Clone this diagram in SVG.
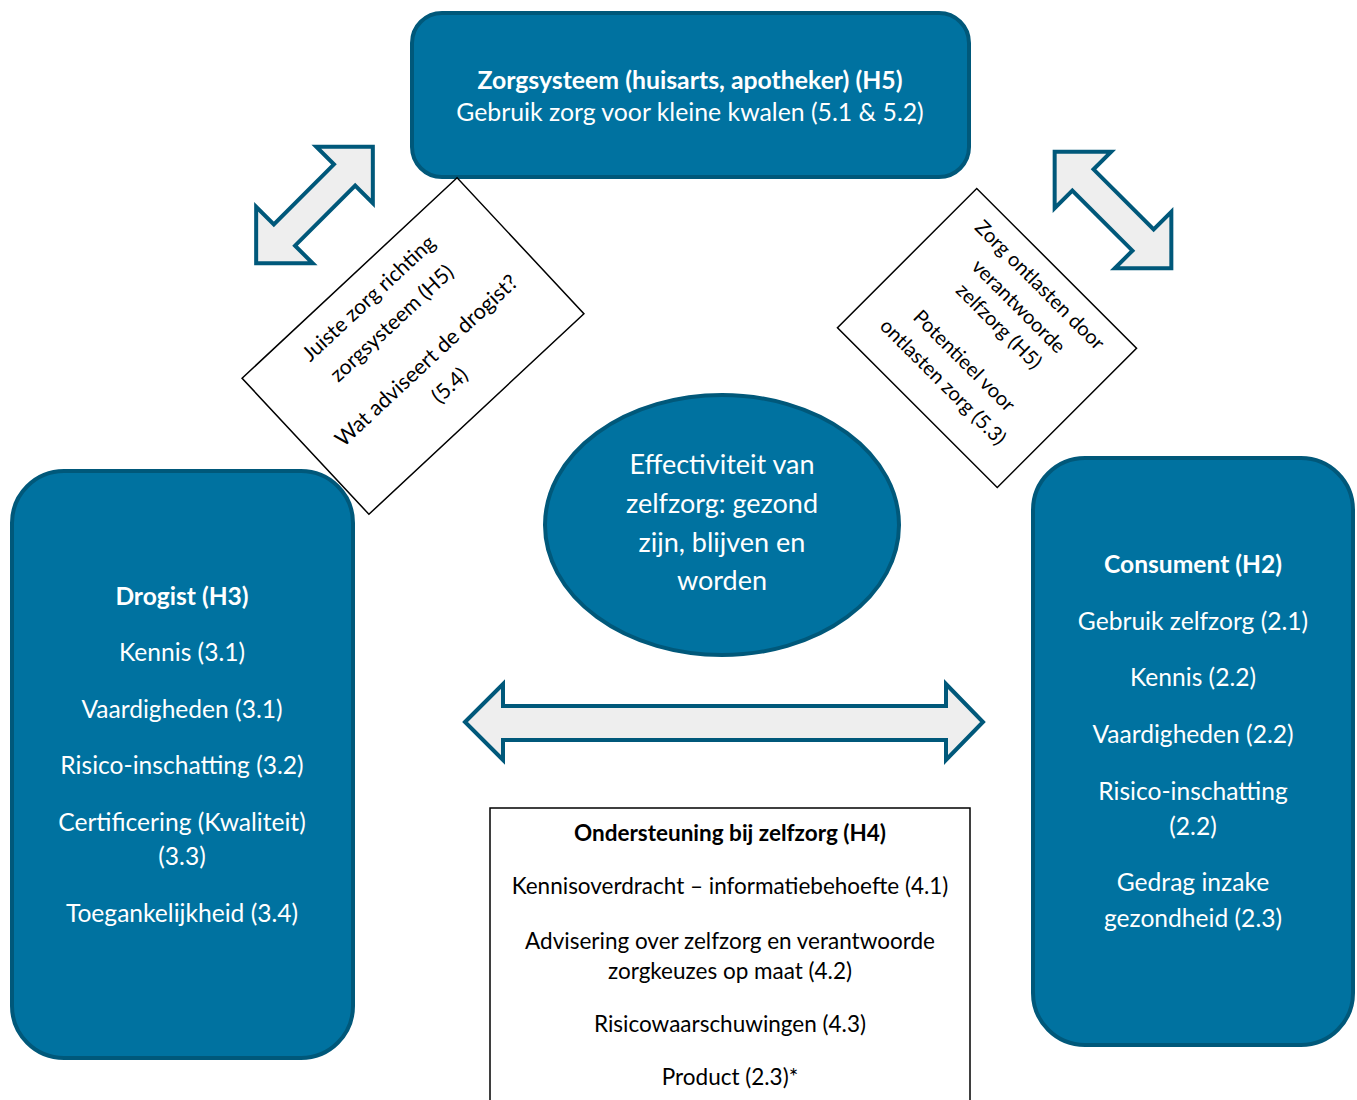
<svg xmlns="http://www.w3.org/2000/svg" width="1357" height="1100" viewBox="0 0 1357 1100">
<style>
.node{fill:#0072A0;stroke:#00587A;stroke-width:4}
.arr{fill:#EEEEEE;stroke:#00587A;stroke-width:4;stroke-linejoin:miter}
.wt{fill:#FFFFFF;font-family:Lato,"Open Sans",sans-serif;text-anchor:middle}
.bt{fill:#000000;font-family:Lato,"Open Sans",sans-serif;text-anchor:middle}
.b{font-weight:bold}
.box{fill:#FFFFFF;stroke:#000000;stroke-width:1.5}
.side{font-size:24.6px}
.low{font-size:22.5px}
</style>
<defs>
<polygon id="dbl" points="-82.5,0 -42.5,-40 -42.5,-15 42.5,-15 42.5,-40 82.5,0 42.5,40 42.5,15 -42.5,15 -42.5,40"/>
</defs>
<rect width="1357" height="1100" fill="#FFFFFF"/>

<g id="connectors">
<use href="#dbl" class="arr" transform="translate(314.5,205) rotate(-45)"/>
<use href="#dbl" class="arr" transform="translate(1113,210) rotate(45)"/>
<polygon class="arr" points="465,722 503,684 503,706 946,706 946,684 983,722 946,760 946,740 503,740 503,760"/>
</g>

<g id="zorgsysteem">
<rect class="node" x="412" y="13" width="557" height="164" rx="30"/>
<text class="wt b" x="690" y="89" font-size="24.8">Zorgsysteem (huisarts, apotheker) (H5)</text>
<text class="wt" x="690" y="121" font-size="24.8">Gebruik zorg voor kleine kwalen (5.1 &amp; 5.2)</text>
</g>

<g id="label-left" transform="translate(413,346) rotate(-43)">
<rect class="box" x="-147" y="-93" width="294" height="186"/>
<text class="bt" x="0" y="-58" font-size="21">Juiste zorg richting</text>
<text class="bt" x="0" y="-24" font-size="21">zorgsysteem (H5)</text>
<text class="bt" x="0" y="27" font-size="21.5">Wat adviseert de drogist?</text>
<text class="bt" x="0" y="61" font-size="21">(5.4)</text>
</g>

<g id="label-right" transform="translate(987,338) rotate(45)">
<rect class="box" x="-113" y="-98.5" width="226" height="197"/>
<text class="bt" x="0" y="-68" font-size="20">Zorg ontlasten door</text>
<text class="bt" x="0" y="-38" font-size="20">verantwoorde</text>
<text class="bt" x="0" y="-10" font-size="20">zelfzorg (H5)</text>
<text class="bt" x="0" y="39" font-size="20">Potentieel voor</text>
<text class="bt" x="0" y="69" font-size="20">ontlasten zorg (5.3)</text>
</g>

<g id="effectiviteit">
<ellipse class="node" cx="722" cy="525" rx="177" ry="130"/>
<text class="wt" x="722" y="474" font-size="27">Effectiviteit van</text>
<text class="wt" x="722" y="513" font-size="27">zelfzorg: gezond</text>
<text class="wt" x="722" y="552" font-size="27">zijn, blijven en</text>
<text class="wt" x="722" y="590" font-size="27">worden</text>
</g>

<g id="drogist">
<rect class="node" x="12" y="471" width="341" height="587" rx="52"/>
<text class="wt b side" x="182" y="605">Drogist (H3)</text>
<text class="wt side" x="182" y="661">Kennis (3.1)</text>
<text class="wt side" x="182" y="718">Vaardigheden (3.1)</text>
<text class="wt side" x="182" y="774">Risico-inschatting (3.2)</text>
<text class="wt side" x="182" y="831">Certificering (Kwaliteit)</text>
<text class="wt side" x="182" y="865">(3.3)</text>
<text class="wt side" x="182" y="922">Toegankelijkheid (3.4)</text>
</g>

<g id="consument">
<rect class="node" x="1033" y="458" width="320" height="587" rx="52"/>
<text class="wt b side" x="1193" y="573">Consument (H2)</text>
<text class="wt side" x="1193" y="630">Gebruik zelfzorg (2.1)</text>
<text class="wt side" x="1193" y="686">Kennis (2.2)</text>
<text class="wt side" x="1193" y="743">Vaardigheden (2.2)</text>
<text class="wt side" x="1193" y="800">Risico-inschatting</text>
<text class="wt side" x="1193" y="835">(2.2)</text>
<text class="wt side" x="1193" y="891">Gedrag inzake</text>
<text class="wt side" x="1193" y="927">gezondheid (2.3)</text>
</g>

<g id="ondersteuning">
<rect class="box" x="490" y="808" width="480" height="310"/>
<text class="bt b low" x="730" y="841">Ondersteuning bij zelfzorg (H4)</text>
<text class="bt low" x="730" y="894">Kennisoverdracht – informatiebehoefte (4.1)</text>
<text class="bt low" x="730" y="949">Advisering over zelfzorg en verantwoorde</text>
<text class="bt low" x="730" y="979">zorgkeuzes op maat (4.2)</text>
<text class="bt low" x="730" y="1032">Risicowaarschuwingen (4.3)</text>
<text class="bt low" x="730" y="1085">Product (2.3)*</text>
</g>
</svg>
